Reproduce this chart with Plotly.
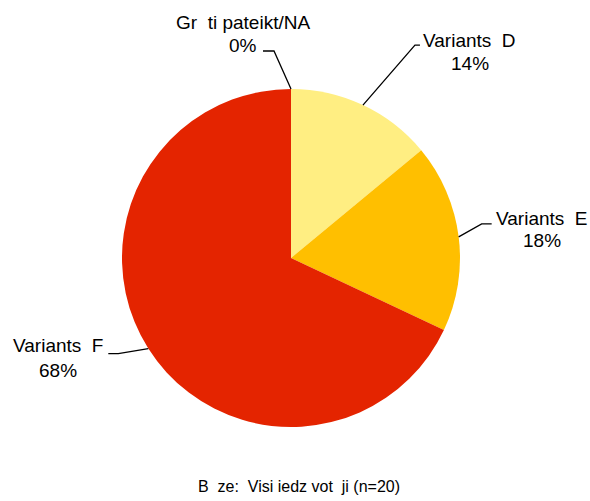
import math
import plotly.graph_objects as go

# data
labels = ["Variants  D", "Variants  E", "Variants  F", "Gr  ti pateikt/NA"]
values = [14, 18, 68, 0]
pct_text = ["14%", "18%", "68%", "0%"]
colors = ["#FFEE82", "#FFBF00", "#E42400", "#C83000"]
footer = "B  ze:  Visi iedz vot  ji (n=20)"

W, H = 590, 501
cx, cy, r = 291, 258, 169  # pie centre and radius (px)

# leader / label layout, offsets in px from the slice edge point
# (elbow, end of leader, name centre, percent centre)
label_layout = {
    "Variants  D": ((52, -60), (57, -60), (107, -65), (107, -41.5)),
    "Variants  E": ((23, -13), (33, -13), (83, -18), (83, 4)),
    "Variants  F": ((-30, 5), (-40, 5), (-90, -3), (-90, 22)),
    "Gr  ti pateikt/NA": ((-17, -38), (-28, -38), (-48, -67), (-48, -43)),
}

FONT = "Liberation Sans, Arial, sans-serif"


def px(x, y):
    return x / W, 1 - y / H


fig = go.Figure(go.Pie(
    labels=labels,
    values=values,
    sort=False,
    direction="clockwise",
    rotation=0,
    marker=dict(colors=colors, line=dict(width=0)),
    textinfo="none",
    hoverinfo="label+percent",
    showlegend=False,
    domain=dict(x=[(cx - r) / W, (cx + r) / W], y=[1 - (cy + r) / H, 1 - (cy - r) / H]),
))

total = sum(values)
cum = 0
annotations = []
shapes = []
for lab, v, pt in zip(labels, values, pct_text):
    mid = (cum + v / 2) / total * 2 * math.pi
    cum += v
    ex = cx + r * math.sin(mid)
    ey = cy - r * math.cos(mid)
    elbow, end, name_c, pct_c = label_layout[lab]
    p0 = px(ex, ey)
    p1 = px(ex + elbow[0], ey + elbow[1])
    p2 = px(ex + end[0], ey + end[1])
    shapes.append(dict(
        type="path", xref="paper", yref="paper",
        path=f"M {p0[0]} {p0[1]} L {p1[0]} {p1[1]} L {p2[0]} {p2[1]}",
        line=dict(color="black", width=1.3),
    ))
    for txt, c in ((lab, name_c), (pt, pct_c)):
        ax, ay = px(ex + c[0], ey + c[1])
        annotations.append(dict(
            text=txt, x=ax, y=ay, xref="paper", yref="paper",
            xanchor="center", yanchor="middle", showarrow=False,
            font=dict(family=FONT, size=19, color="black"),
        ))

fx, fy = px(299, 486)
annotations.append(dict(
    text=footer, x=fx, y=fy, xref="paper", yref="paper",
    xanchor="center", yanchor="middle", showarrow=False,
    font=dict(family=FONT, size=16, color="black"),
))

fig.update_layout(
    width=W, height=H,
    margin=dict(t=0, b=0, l=0, r=0),
    paper_bgcolor="white",
    plot_bgcolor="white",
    annotations=annotations,
    shapes=shapes,
)

# page has an 8px body margin by default; drop it so the chart fills the window
fig.write_html(
    "out.html",
    config={"displayModeBar": False},
    post_script="document.body.style.margin='0';document.body.style.overflow='hidden';",
)
